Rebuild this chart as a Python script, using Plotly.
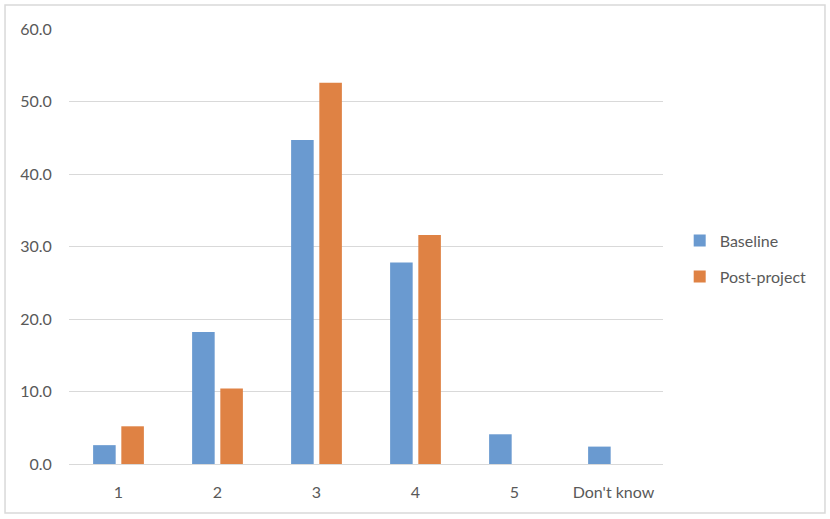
import plotly.graph_objects as go

categories = ["1", "2", "3", "4", "5", "Don't know"]
baseline = [2.6, 18.2, 44.7, 27.8, 4.1, 2.4]
post_project = [5.2, 10.4, 52.6, 31.6, None, None]
y_ticks = [0, 10, 20, 30, 40, 50, 60]

FONT = dict(family="Lato, 'Open Sans', sans-serif", size=16, color="#595959")

fig = go.Figure()
fig.add_trace(go.Bar(name="Baseline", x=categories, y=baseline,
                     marker=dict(color="#6A9AD0", line=dict(width=0)),
                     legendgroup="a"))
fig.add_trace(go.Bar(name="Post-project", x=categories, y=post_project,
                     marker=dict(color="#DF8244", line=dict(width=0)),
                     legendgroup="b"))

fig.update_layout(
    width=830, height=519,
    margin=dict(l=69, r=167, t=29, b=55),
    paper_bgcolor="white", plot_bgcolor="white",
    font=FONT,
    barmode="group", bargap=0.43, bargroupgap=0.2,
    showlegend=True,
    legend=dict(x=1.0281, y=0.472, xanchor="left", yanchor="middle",
                font=dict(family=FONT["family"], size=16, color="#595959"),
                tracegroupgap=12, itemwidth=30),
    shapes=[dict(type="rect", xref="paper", yref="paper",
                 x0=-0.1077, x1=1.2727, y0=-0.1126, y1=1.0552,
                 line=dict(color="#D9D9D9", width=1.5), fillcolor="rgba(0,0,0,0)",
                 layer="below")],
)
fig.update_yaxes(range=[0, 60], tickvals=y_ticks, tickformat=".1f",
                 showgrid=True, gridcolor="#D9D9D9", gridwidth=1.3,
                 zeroline=False, showline=False,
                 ticks="outside", ticklen=13, tickcolor="rgba(0,0,0,0)")
fig.update_xaxes(showgrid=False, zeroline=False, showline=True,
                 linecolor="#D9D9D9", linewidth=1.3,
                 ticks="outside", ticklen=14, tickcolor="rgba(0,0,0,0)")

fig.write_html("out.html", config={"displayModeBar": False},
               post_script="document.body.style.margin='0';document.body.style.overflow='hidden';")
